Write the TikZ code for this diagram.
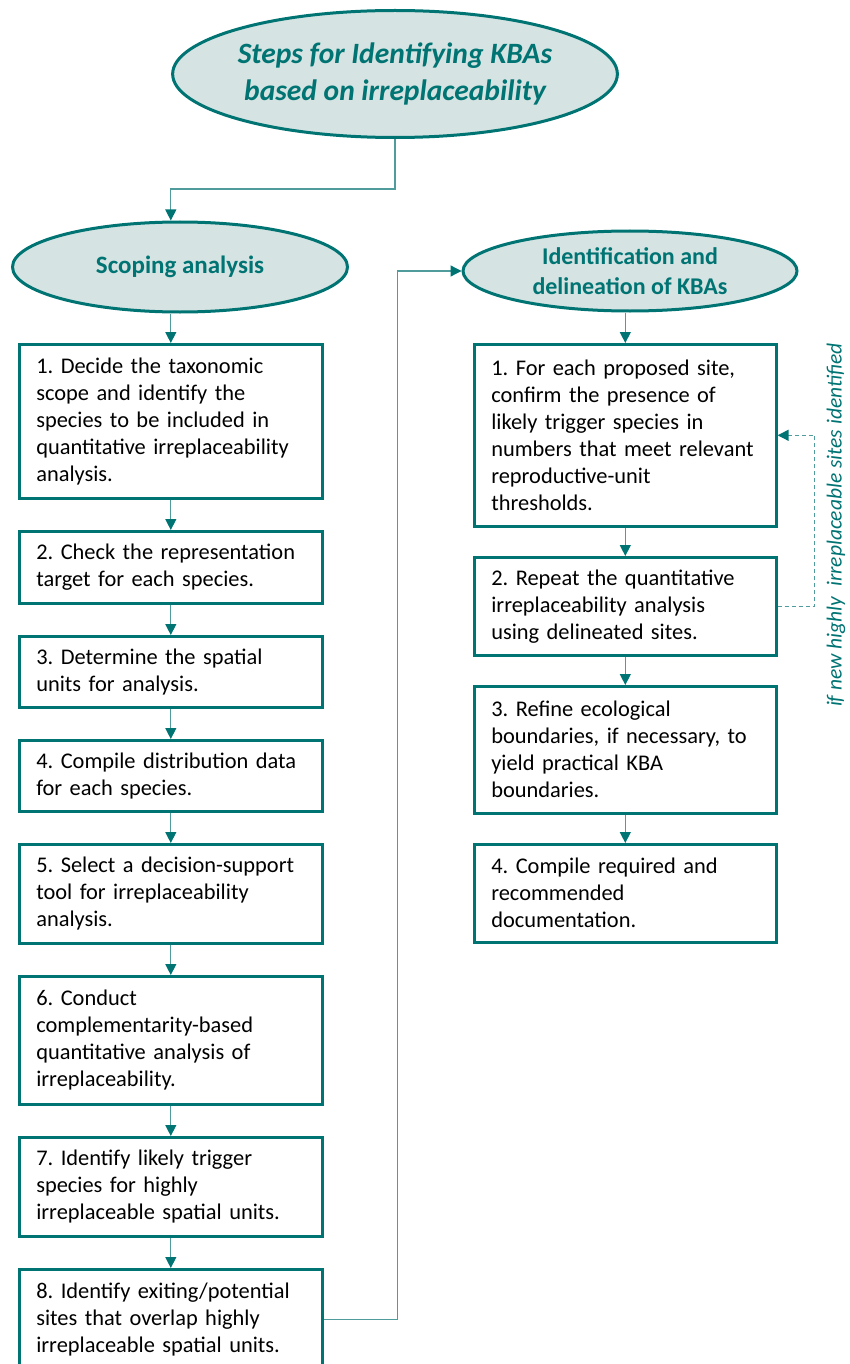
\documentclass[tikz,border=0pt]{standalone}
\usepackage{fontspec}
\setmainfont{Carlito}
\usetikzlibrary{shapes.geometric,arrows.meta,positioning}
\definecolor{kbateal}{RGB}{0,115,115}
\definecolor{kbafill}{RGB}{213,227,226}
\definecolor{kbaline}{RGB}{80,155,155}
\frenchspacing

\begin{document}
\begin{tikzpicture}[x=1pt,y=-1pt,
    oval/.style={ellipse,draw=kbateal,line width=3pt,fill=kbafill,text=kbateal,
      font=\fontsize{24}{30}\selectfont\bfseries,align=center,inner sep=0pt},
    stepbox/.style={rectangle,draw=kbateal,line width=2.6pt,anchor=north west,
      text width=269pt,inner xsep=17pt,inner ysep=0pt,align=left,
      font=\fontsize{22.4}{27}\selectfont},
    link/.style={kbaline,line width=1.3pt,-{Triangle[length=11pt,width=11pt,color=kbateal]}},
    backlink/.style={kbaline,line width=1.3pt,dash pattern=on 4pt off 3pt,
      -{Triangle[length=11pt,width=11pt,color=kbateal]}}]
  \useasboundingbox (0,0) rectangle (849,1364);
  \clip (0,0) rectangle (849,1364);

  \node[oval,minimum width=431pt,minimum height=127pt,
        font=\fontsize{29.5}{37}\selectfont\bfseries\itshape] (top) at (395,74)
    {Steps for Identifying KBAs\\ based on irreplaceability};
  \node[oval,minimum width=335pt,minimum height=90pt,
        font=\fontsize{25}{30}\selectfont\bfseries] (scope) at (180,267) {Scoping analysis};
  \node[oval,minimum width=334pt,minimum height=80pt] (ident) at (630,271)
    {Identification and\\ delineation of KBAs};

  \node[stepbox,minimum height=154pt] (s1) at (18,343)
    {1. Decide the taxonomic\\ scope and identify the\\ species to be included in\\ quantitative irreplaceability\\ analysis.};
  \node[stepbox,minimum height=72pt] (s2) at (18,530)
    {2. Check the representation\\ target for each species.};
  \node[stepbox,minimum height=71pt] (s3) at (18,635)
    {3. Determine the spatial\\ units for analysis.};
  \node[stepbox,minimum height=71pt] (s4) at (18,739)
    {4. Compile distribution data\\ for each species.};
  \node[stepbox,minimum height=99pt] (s5) at (18,843)
    {5. Select a decision-support\\ tool for irreplaceability\\ analysis.};
  \node[stepbox,minimum height=128pt] (s6) at (18,975)
    {6. Conduct\\ complementarity-based\\ quantitative analysis of\\ irreplaceability.};
  \node[stepbox,minimum height=99pt] (s7) at (18,1136)
    {7. Identify likely trigger\\ species for highly\\ irreplaceable spatial units.};
  \node[stepbox,minimum height=100pt] (s8) at (18,1268)
    {8. Identify exiting/potential\\ sites that overlap highly\\ irreplaceable spatial units.};

  \node[stepbox,text width=268pt,minimum height=182pt] (r1) at (473,343)
    {1. For each proposed site,\\ confirm the presence of\\ likely trigger species in\\ numbers that meet relevant\\ reproductive-unit\\ thresholds.};
  \node[stepbox,text width=268pt,minimum height=98pt] (r2) at (473,556)
    {2. Repeat the quantitative\\ irreplaceability analysis\\ using delineated sites.};
  \node[stepbox,text width=268pt,minimum height=127pt] (r3) at (473,685)
    {3. Refine ecological\\ boundaries, if necessary, to\\ yield practical KBA\\ boundaries.};
  \node[stepbox,text width=268pt,minimum height=98pt] (r4) at (473,843)
    {4. Compile required and\\ recommended\\ documentation.};

  \node[rotate=90,text=kbateal,font=\fontsize{21.5}{26}\selectfont\itshape] (note) at (836,525)
    {if new highly\ \ irreplaceable sites identified};

  \draw[link] (top.south) -- ++(0,50) -| (scope.north -| s1.north);
  \draw[link] (scope.south -| s1.north) -- (s1.north);
  \foreach \a/\b in {s1/s2,s2/s3,s3/s4,s4/s5,s5/s6,s6/s7,s7/s8,r1/r2,r2/r3,r3/r4}
    \draw[link] (\a.south) -- (\b.north);
  \draw[link] (s8.east) -- ++(74,0) |- (ident.west);
  \draw[link] (ident.south -| r1.north) -- (r1.north);
  \draw[backlink] (r2.east) -- ++(37,0) |- (r1.east);
\end{tikzpicture}
\end{document}
